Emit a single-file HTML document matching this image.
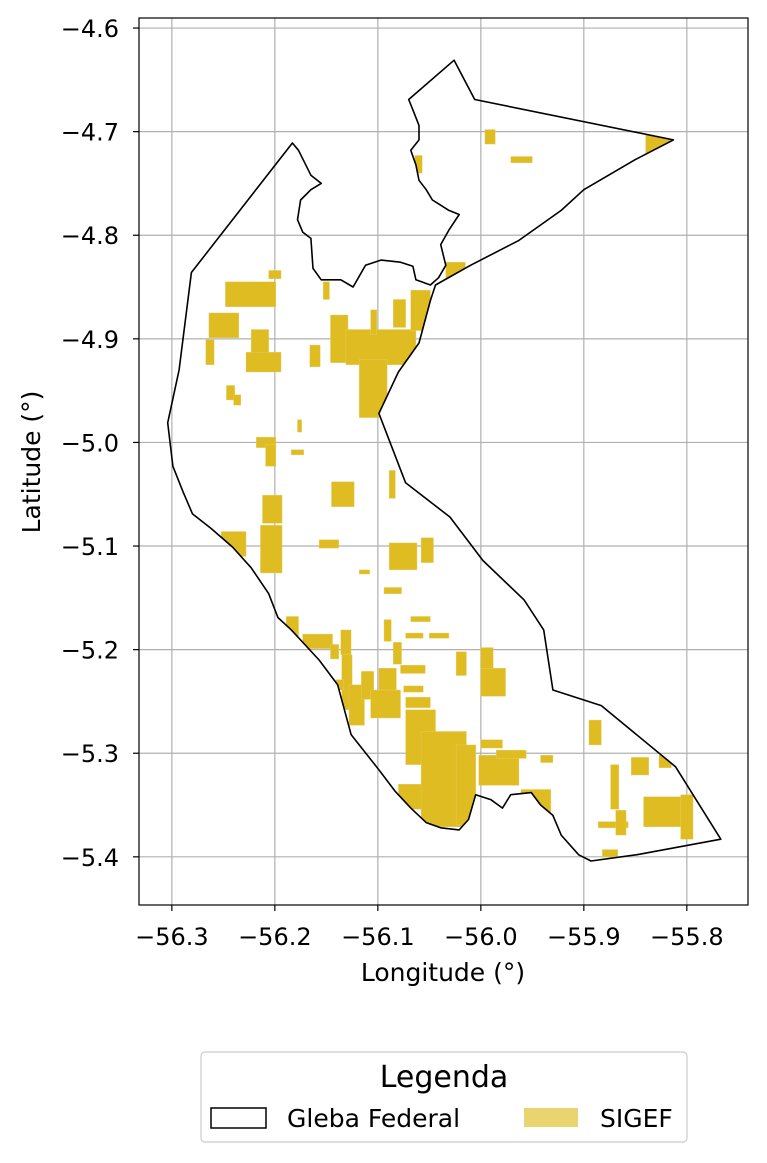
<!DOCTYPE html>
<html><head><meta charset="utf-8">
<style>
body{margin:0;background:#fff;}
svg{display:block;font-family:"DejaVu Sans","Liberation Sans",sans-serif;}
</style></head>
<body>
<svg id="chart" width="767" height="1163" viewBox="0 0 767 1163">
<rect width="767" height="1163" fill="#fff"/>
<defs><clipPath id="axclip"><rect x="139" y="18" width="609" height="887"/></clipPath><clipPath id="glebaclip"><path id="clipPathPoly"/></clipPath></defs>
<g id="grid"></g>
<g id="parcels" clip-path="url(#glebaclip)"></g>
<g id="outline" clip-path="url(#axclip)"></g>
<rect x="139" y="18" width="609" height="887" fill="none" stroke="#000" stroke-width="1.2"/>
<g id="ticks"></g>
<text x="443" y="981" font-size="25px" text-anchor="middle">Longitude (°)</text>
<text x="40" y="462" font-size="25px" text-anchor="middle" transform="rotate(-90 40 462)">Latitude (°)</text>
<g>
<rect x="201" y="1052" width="486" height="90" rx="4" fill="#fff" stroke="#ccc" stroke-width="1.2"/>
<text x="444" y="1087" font-size="30px" text-anchor="middle">Legenda</text>
<rect x="211" y="1108" width="55" height="20" fill="none" stroke="#000" stroke-width="1.5"/>
<text x="287" y="1127" font-size="25px">Gleba Federal</text>
<rect x="524" y="1108" width="54" height="19" fill="#e9d470"/>
<text x="600" y="1127" font-size="25px">SIGEF</text>
</g>
</svg>
<script>
const xTicks=[-56.3,-56.2,-56.1,-56.0,-55.9,-55.8];
const yTicks=[-4.6,-4.7,-4.8,-4.9,-5.0,-5.1,-5.2,-5.3,-5.4];
const glebaLon=[-56.304,-56.293,-56.281,-56.183,-56.177,-56.165,-56.155,-56.165,-56.175,-56.178,-56.173,-56.165,-56.163,-56.155,-56.136,-56.124,-56.112,-56.097,-56.078,-56.066,-56.063,-56.049,-56.041,-56.034,-56.039,-56.031,-56.021,-56.031,-56.039,-56.047,-56.053,-56.060,-56.063,-56.068,-56.060,-56.060,-56.066,-56.070,-56.026,-56.006,-55.813,-55.850,-55.900,-55.922,-55.963,-56.010,-56.044,-56.049,-56.060,-56.080,-56.099,-56.073,-56.030,-55.998,-55.958,-55.939,-55.930,-55.883,-55.811,-55.767,-55.849,-55.893,-55.905,-55.922,-55.930,-55.942,-55.951,-55.971,-55.979,-55.990,-56.005,-56.012,-56.021,-56.039,-56.053,-56.068,-56.083,-56.099,-56.126,-56.139,-56.157,-56.184,-56.197,-56.206,-56.223,-56.241,-56.262,-56.280,-56.289,-56.299];
const glebaLat=[-4.981,-4.930,-4.836,-4.711,-4.718,-4.742,-4.750,-4.756,-4.766,-4.785,-4.797,-4.803,-4.832,-4.843,-4.843,-4.850,-4.829,-4.824,-4.826,-4.830,-4.843,-4.848,-4.841,-4.829,-4.809,-4.795,-4.780,-4.776,-4.771,-4.766,-4.756,-4.747,-4.732,-4.718,-4.708,-4.694,-4.679,-4.669,-4.631,-4.669,-4.708,-4.727,-4.756,-4.776,-4.805,-4.829,-4.848,-4.863,-4.904,-4.932,-4.972,-5.039,-5.072,-5.114,-5.152,-5.181,-5.239,-5.254,-5.313,-5.383,-5.398,-5.404,-5.398,-5.379,-5.360,-5.350,-5.338,-5.340,-5.353,-5.345,-5.340,-5.364,-5.374,-5.372,-5.367,-5.353,-5.337,-5.316,-5.282,-5.234,-5.210,-5.181,-5.169,-5.146,-5.121,-5.101,-5.083,-5.069,-5.048,-5.023];
// SIGEF parcels: west lon, north lat, width (deg lon), height (deg lat)
const parcelLon=[-56.248,-56.264,-56.267,-56.223,-56.228,-56.247,-56.240,-56.153,-56.146,-56.131,-56.118,-56.085,-56.068,-56.166,-56.107,-56.206,-56.218,-56.209,-56.178,-56.184,-56.145,-56.089,-56.212,-56.214,-56.252,-56.157,-56.089,-56.058,-56.118,-56.094,-56.068,-56.073,-56.050,-56.094,-56.189,-56.173,-56.136,-56.085,-56.135,-56.024,-56.000,-56.000,-56.128,-56.116,-56.099,-56.107,-56.078,-56.075,-56.073,-56.146,-56.141,-56.073,-56.080,-56.058,-56.024,-56.002,-56.000,-55.985,-55.961,-55.942,-55.895,-55.874,-55.854,-55.827,-55.842,-55.806,-55.886,-55.882,-55.869,-55.840,-55.996,-55.971,-56.064,-55.961,-56.034];
const parcelLat=[-4.845,-4.875,-4.901,-4.891,-4.913,-4.945,-4.954,-4.845,-4.877,-4.891,-4.920,-4.862,-4.853,-4.906,-4.872,-4.834,-4.995,-5.002,-4.978,-5.007,-5.038,-5.027,-5.051,-5.080,-5.086,-5.094,-5.097,-5.092,-5.123,-5.140,-5.168,-5.184,-5.184,-5.171,-5.168,-5.185,-5.181,-5.193,-5.205,-5.202,-5.198,-5.218,-5.234,-5.221,-5.218,-5.239,-5.215,-5.235,-5.246,-5.195,-5.229,-5.258,-5.330,-5.279,-5.292,-5.302,-5.287,-5.297,-5.335,-5.302,-5.268,-5.311,-5.304,-5.302,-5.342,-5.340,-5.366,-5.393,-5.355,-4.703,-4.698,-4.724,-4.723,-4.805,-4.826];
const parcelW=[0.049,0.029,0.008,0.017,0.034,0.008,0.007,0.006,0.017,0.068,0.027,0.012,0.019,0.010,0.006,0.012,0.019,0.010,0.004,0.012,0.022,0.006,0.019,0.021,0.024,0.019,0.027,0.012,0.010,0.017,0.019,0.017,0.019,0.007,0.012,0.029,0.010,0.008,0.010,0.010,0.012,0.024,0.015,0.012,0.017,0.029,0.024,0.019,0.024,0.008,0.008,0.029,0.039,0.044,0.019,0.039,0.021,0.029,0.029,0.012,0.012,0.008,0.017,0.012,0.044,0.012,0.029,0.015,0.010,0.040,0.010,0.021,0.007,0.008,0.019];
const parcelH=[0.024,0.024,0.024,0.027,0.019,0.014,0.010,0.017,0.046,0.034,0.056,0.027,0.039,0.021,0.024,0.008,0.010,0.021,0.012,0.005,0.024,0.027,0.027,0.046,0.024,0.008,0.026,0.024,0.004,0.006,0.005,0.005,0.005,0.021,0.019,0.014,0.024,0.021,0.053,0.023,0.021,0.027,0.039,0.027,0.021,0.027,0.008,0.006,0.010,0.014,0.010,0.053,0.024,0.092,0.077,0.029,0.008,0.008,0.029,0.007,0.024,0.043,0.017,0.012,0.029,0.043,0.006,0.007,0.024,0.019,0.014,0.006,0.017,0.006,0.023];

const X0=139,X1=748,Y0=18,Y1=905;
const lonMin=-56.3319,lonMax=-55.7406,latMax=-4.5903,latMin=-5.4465;
const sx=v=>X0+(v-lonMin)/(lonMax-lonMin)*(X1-X0);
const sy=v=>Y0+(latMax-v)/(latMax-latMin)*(Y1-Y0);
const NS='http://www.w3.org/2000/svg';
function mk(tag,attrs,parent){const e=document.createElementNS(NS,tag);for(const k in attrs)e.setAttribute(k,attrs[k]);parent.appendChild(e);return e;}
const grid=document.getElementById('grid'),ticks=document.getElementById('ticks');
xTicks.forEach(t=>{const x=sx(t);
 const g=mk('line',{x1:x,x2:x,y1:Y0,y2:Y1,stroke:'#b0b0b0','stroke-width':1.2},grid);
 
 
 mk('line',{x1:x,x2:x,y1:Y1,y2:Y1+6,stroke:'#000','stroke-width':1.2},ticks);
 const l=mk('text',{x:x,y:Y1+40,'font-size':'24px','text-anchor':'middle'},ticks);l.textContent='\u2212'+Math.abs(t).toFixed(1);
 
 
});
yTicks.forEach(t=>{const y=sy(t);
 const g=mk('line',{x1:X0,x2:X1,y1:y,y2:y,stroke:'#b0b0b0','stroke-width':1.2},grid);
 
 
 mk('line',{x1:X0-6,x2:X0,y1:y,y2:y,stroke:'#000','stroke-width':1.2},ticks);
 const l=mk('text',{x:X0-20,y:y+9,'font-size':'24px','text-anchor':'end'},ticks);l.textContent='\u2212'+Math.abs(t).toFixed(1);
 
 
});
let d='';glebaLon.forEach((v,i)=>{d+=(i?'L':'M')+sx(v).toFixed(1)+','+sy(glebaLat[i]).toFixed(1);});d+='Z';
document.getElementById('clipPathPoly').setAttribute('d',d);
const pg=document.getElementById('parcels');
parcelLon.forEach((v,i)=>{const x=sx(v),y=sy(parcelLat[i]);
 const w=sx(v+parcelW[i])-x,h=sy(parcelLat[i]-parcelH[i])-y;
 const r=mk('rect',{x:x,y:y,width:w,height:h,fill:'#dfbc22',stroke:'#e6cf6a','stroke-width':0.4},pg);
 
 
});
const o=mk('path',{d:d,fill:'none',stroke:'#000','stroke-width':1.6,'stroke-linejoin':'round'},document.getElementById('outline'));


</script>
</body></html>
